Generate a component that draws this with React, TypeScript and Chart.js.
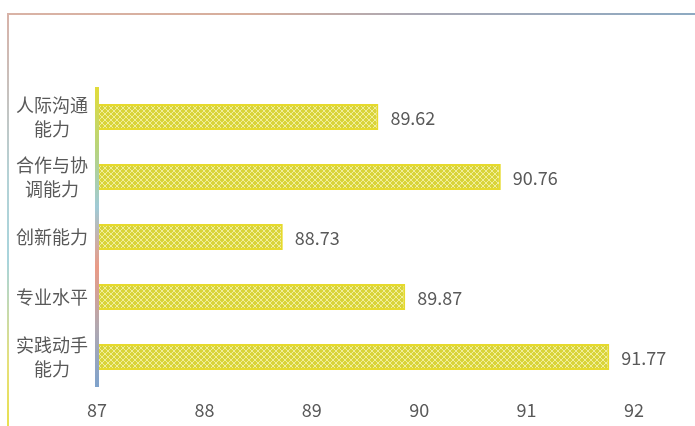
import React, { useEffect, useRef } from "react";
import { Chart, registerables } from "chart.js";

Chart.register(...registerables);

const categories: (string | string[])[] = [
  ["人际沟通", "能力"],
  ["合作与协", "调能力"],
  "创新能力",
  "专业水平",
  ["实践动手", "能力"],
];
const scores: number[] = [89.62, 90.76, 88.73, 89.87, 91.77];
const xMin = 87;
const xMax = 92;

const FONT = "'Noto Sans CJK SC', 'Noto Sans', sans-serif";
const TEXT = "#595959";

function makePattern(): CanvasPattern | string {
  const c = document.createElement("canvas");
  c.width = 6;
  c.height = 6;
  const g = c.getContext("2d");
  if (!g) return "#dcd640";
  g.fillStyle = "#d9d43a";
  g.fillRect(0, 0, 6, 6);
  g.fillStyle = "#f1ee9a";
  g.fillRect(2, 0, 2, 1);
  g.fillRect(1, 1, 1, 1);
  g.fillRect(4, 1, 1, 1);
  g.fillRect(0, 2, 1, 2);
  g.fillRect(5, 2, 1, 2);
  g.fillRect(1, 4, 1, 1);
  g.fillRect(4, 4, 1, 1);
  g.fillRect(2, 5, 2, 1);
  const p = g.createPattern(c, "repeat");
  return p || "#dcd640";
}

const decorPlugin = {
  id: "decor",
  beforeDraw(chart: any) {
    const ctx = chart.ctx as CanvasRenderingContext2D;
    const W = chart.width;
    const H = chart.height;
    ctx.save();
    ctx.fillStyle = "#ffffff";
    ctx.fillRect(0, 0, W, H);
    const gt = ctx.createLinearGradient(7, 0, W, 0);
    gt.addColorStop(0, "#d9b3a6");
    gt.addColorStop(0.35, "#d7ae9c");
    gt.addColorStop(0.6, "#a9a8b4");
    gt.addColorStop(1, "#8eaac2");
    ctx.strokeStyle = gt;
    ctx.lineWidth = 2;
    ctx.beginPath();
    ctx.moveTo(7, 14);
    ctx.lineTo(W, 14);
    ctx.stroke();
    const gl = ctx.createLinearGradient(0, 13, 0, H);
    gl.addColorStop(0, "#d8b2a8");
    gl.addColorStop(0.4, "#b4d2d6");
    gl.addColorStop(0.6, "#a8d4dc");
    gl.addColorStop(0.85, "#e6e07a");
    gl.addColorStop(1, "#e8e050");
    ctx.strokeStyle = gl;
    ctx.beginPath();
    ctx.moveTo(8, 13);
    ctx.lineTo(8, H);
    ctx.stroke();
    ctx.restore();
  },
  afterDatasetsDraw(chart: any) {
    const ctx = chart.ctx as CanvasRenderingContext2D;
    const area = chart.chartArea;
    ctx.save();
    const ga = ctx.createLinearGradient(0, area.top, 0, area.bottom);
    ga.addColorStop(0, "#e2dc3a");
    ga.addColorStop(0.2, "#b8d47a");
    ga.addColorStop(0.4, "#9fcad6");
    ga.addColorStop(0.6, "#ea9a86");
    ga.addColorStop(0.8, "#b2a8b0");
    ga.addColorStop(1, "#7ea2cc");
    ctx.strokeStyle = ga;
    ctx.lineWidth = 4;
    ctx.beginPath();
    ctx.moveTo(area.left, area.top);
    ctx.lineTo(area.left, area.bottom);
    ctx.stroke();
    const meta = chart.getDatasetMeta(0);
    ctx.fillStyle = TEXT;
    ctx.font = `18px ${FONT}`;
    ctx.textAlign = "left";
    ctx.textBaseline = "middle";
    meta.data.forEach((bar: any, i: number) => {
      ctx.fillText(scores[i].toFixed(2), bar.x + 12, bar.y + 1);
    });
    ctx.restore();
  },
};

export default function App() {
  const ref = useRef<HTMLCanvasElement | null>(null);
  useEffect(() => {
    if (!ref.current) return;
    const pattern = makePattern();
    const chart = new Chart(ref.current, {
      type: "bar",
      data: {
        labels: categories,
        datasets: [
          {
            data: scores,
            backgroundColor: pattern as any,
            borderColor: "#e6da2c",
            borderWidth: 2,
            borderSkipped: false,
            barPercentage: 0.87,
            categoryPercentage: 0.5,
          },
        ],
      },
      options: {
        indexAxis: "y",
        animation: false,
        responsive: false,
        maintainAspectRatio: false,
        layout: { padding: { top: 87, right: 61, left: 0, bottom: 0 } },
        plugins: {
          legend: { display: false },
          tooltip: { enabled: false },
        },
        scales: {
          x: {
            min: xMin,
            max: xMax,
            grid: { display: false, drawTicks: false },
            border: { display: false },
            ticks: {
              stepSize: 1,
              padding: 12,
              color: TEXT,
              font: { size: 18, family: FONT },
            },
            afterFit(scale: any) {
              scale.height = 39;
            },
          },
          y: {
            grid: { display: false, drawTicks: false },
            border: { display: false },
            ticks: {
              padding: 9,
              color: TEXT,
              crossAlign: "center",
              font: { size: 18, family: FONT, lineHeight: 1.3 },
            },
            afterFit(scale: any) {
              scale.width = 97;
            },
          },
        },
      },
      plugins: [decorPlugin],
    });
    return () => chart.destroy();
  }, []);
  return (
    <div style={{ position: "absolute", left: 0, top: 0, width: 695, height: 426 }}>
      <canvas ref={ref} width={695} height={426} style={{ width: 695, height: 426 }} />
    </div>
  );
}
